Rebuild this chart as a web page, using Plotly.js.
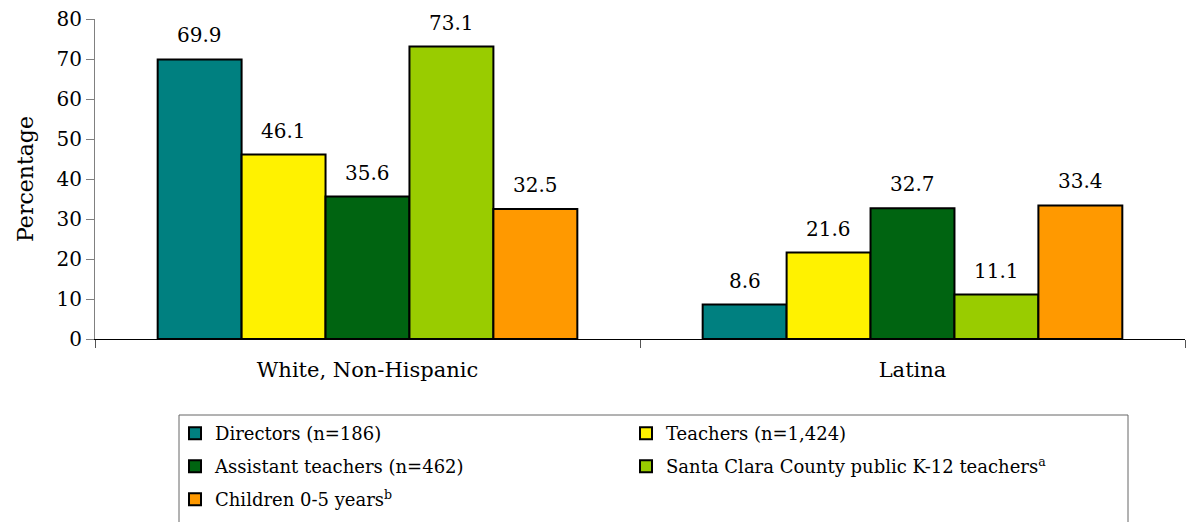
<!DOCTYPE html>
<html>
<head>
<meta charset="utf-8">
<script src="https://cdn.plot.ly/plotly-3.0.1.min.js"></script>
<style>html,body{margin:0;padding:0;background:#fff;}#chart{width:1188px;height:522px;}</style>
</head>
<body>
<div id="chart"></div>
<script>
const categories = ["White, Non-Hispanic", "Latina"];
const seriesNames = [
  "Directors (n=186)",
  "Teachers (n=1,424)",
  "Assistant teachers (n=462)",
  "Santa Clara County public K-12 teachers<sup>a</sup>",
  "Children 0-5 years<sup>b</sup>"
];
const directors = [69.9, 8.6];
const teachers = [46.1, 21.6];
const assistants = [35.6, 32.7];
const k12teachers = [73.1, 11.1];
const children = [32.5, 33.4];
const colors = ["#008080", "#FFF200", "#006411", "#99CC00", "#FF9900"];
const yTicks = [0, 10, 20, 30, 40, 50, 60, 70, 80];

const values = [directors, teachers, assistants, k12teachers, children];
const FONT = "DejaVu Serif, Georgia, serif";
const BARGAP = 0.23;
const legendIds = ["legend", "legend", "legend2", "legend2", "legend3"];

const traces = values.map((v, i) => ({
  type: "bar",
  name: seriesNames[i],
  x: categories,
  y: v,
  marker: {color: colors[i], line: {color: "#000", width: 2}},
  legend: legendIds[i],
  hoverinfo: "none"
}));

// data labels placed above each bar (position derived from category index and series index)
const nS = values.length;
const barW = (1 - BARGAP) / nS;
const annotations = [];
values.forEach((v, si) => {
  v.forEach((d, ci) => {
    annotations.push({
      xref: "x", yref: "y",
      x: ci + (si - (nS - 1) / 2) * barW,
      y: d,
      text: d.toFixed(1),
      showarrow: false,
      yanchor: "bottom",
      yshift: 10,
      font: {family: FONT, size: 20, color: "#000"}
    });
  });
});

const legBase = {
  orientation: "h",
  xanchor: "left", yanchor: "top",
  x: 0.0734,
  bgcolor: "rgba(0,0,0,0)",
  borderwidth: 0,
  font: {family: FONT, size: 18, color: "#000"},
  entrywidth: 406,
  traceorder: "normal"
};

const layout = {
  width: 1188, height: 522,
  margin: {l: 95, r: 3, t: 19, b: 183},
  paper_bgcolor: "#fff", plot_bgcolor: "#fff",
  font: {family: FONT, size: 18, color: "#000"},
  barmode: "group",
  bargap: BARGAP,
  bargroupgap: 0,
  showlegend: true,
  xaxis: {
    type: "category",
    showline: true, linecolor: "#000", linewidth: 1,
    ticks: "outside", tickson: "boundaries", ticklen: 8, tickcolor: "#555",
    tickfont: {family: FONT, size: 21},
    ticklabelstandoff: 12,
    showgrid: false, zeroline: false
  },
  yaxis: {
    range: [0, 80],
    tickvals: yTicks,
    ticktext: yTicks.map(String),
    showline: true, linecolor: "#808080", linewidth: 1,
    ticks: "outside", ticklen: 8, tickcolor: "#808080",
    tickfont: {family: FONT, size: 20},
    showgrid: false, zeroline: false,
    title: {text: "Percentage", font: {family: FONT, size: 22}, standoff: 16}
  },
  legend: Object.assign({}, legBase, {y: -0.2375}),
  legend2: Object.assign({}, legBase, {y: -0.3406}),
  legend3: Object.assign({}, legBase, {y: -0.4438}),
  shapes: [{
    type: "rect", xref: "paper", yref: "paper",
    x0: (179 - 95) / 1090, x1: (1128 - 95) / 1090,
    y0: -0.6, y1: -0.2375,
    line: {color: "#666", width: 1},
    fillcolor: "rgba(0,0,0,0)"
  }],
  annotations: annotations
};

Plotly.newPlot("chart", traces, layout, {displayModeBar: false, staticPlot: true});
</script>
</body>
</html>
